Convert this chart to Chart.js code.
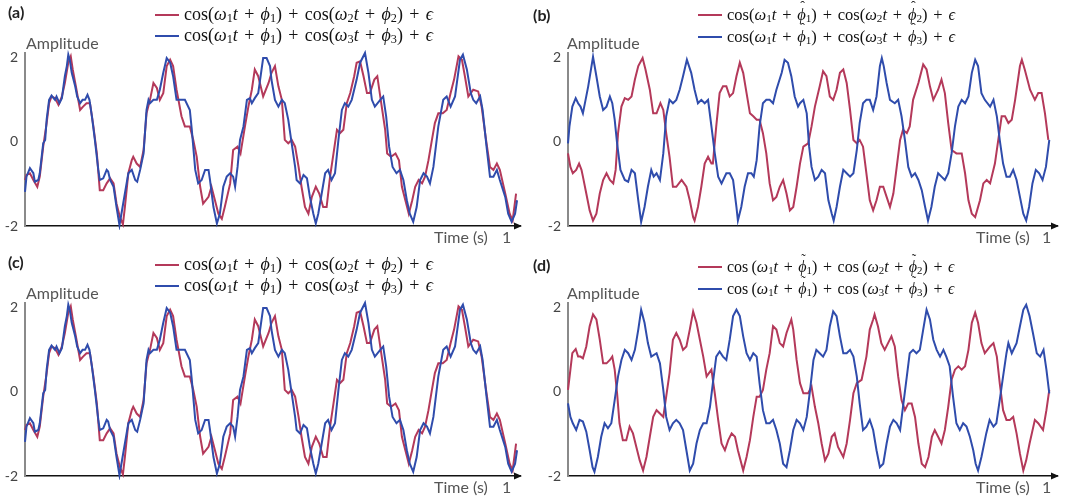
<!DOCTYPE html>
<html>
<head>
<meta charset="utf-8">
<script src="https://cdn.jsdelivr.net/npm/chart.js@4.4.1/dist/chart.umd.min.js"></script>
<style>
body{margin:0;width:1067px;height:497px;overflow:hidden;background:#fff;position:relative;font-family:Lato,"Open Sans",sans-serif}
canvas{position:absolute}
.tag{position:absolute;font-weight:bold;font-size:16px;color:#222}
.lbl{position:absolute;font-size:16px;color:#555;white-space:nowrap}
.leg{position:absolute;font-family:"Liberation Serif",serif;color:#111;white-space:nowrap;line-height:20px}
.leg .sw{display:inline-block;width:24px;height:2px;vertical-align:middle;margin-right:5px;position:relative;top:-1px}
.leg sub{font-size:0.68em;vertical-align:-0.2em;line-height:0}
.leg .op{margin:0 0.35em}
.acc{position:relative;display:inline-block}
.acc b{position:absolute;left:0.22em;top:-0.55em;font-weight:normal;font-style:normal;font-size:0.85em}
</style>
</head>
<body>
<canvas id="pa"></canvas>
<canvas id="pb"></canvas>
<canvas id="pc"></canvas>
<canvas id="pd"></canvas>
<script>
// time (0..1) / amplitude pairs
const yTicks = [-2, 0, 2];

const sigA_red = [[0,-.91],[.003,-.79],[.010,-.75],[.017,-.91],[.025,-1.07],[.030,-.83],[.037,-.12],[.044,.44],[.049,.91],[.054,1.07],[.061,1.03],[.068,.87],[.075,1.07],[.081,1.39],[.088,1.87],[.093,2.02],[.097,1.71],[.104,1.27],[.112,.75],[.118,.83],[.125,.91],[.132,.91],[.139,.36],[.146,-.28],[.152,-1.15],[.159,-1.15],[.166,-.99],[.173,-.87],[.180,-.99],[.186,-1.47],[.193,-1.79],[.199,-1.96],[.203,-1.55],[.210,-.75],[.217,-.44],[.220,-.36],[.227,-.52],[.234,-.60],[.241,-.20],[.247,.67],[.254,.99],[.261,1.39],[.268,1.27],[.274,.99],[.281,1.15],[.288,1.79],[.295,1.94],[.301,1.79],[.308,1.23],[.318,.60],[.325,.36],[.335,.36],[.342,.04],[.349,-.36],[.356,-1.07],[.362,-1.47],[.373,-1.31],[.379,-1.07],[.386,-1.39],[.393,-1.71],[.400,-1.83],[.406,-1.55],[.417,-.99],[.423,-.20],[.432,-.12],[.438,-.28],[.447,.36],[.454,.83],[.461,1.23],[.467,1.71],[.474,1.55],[.484,1.07],[.495,1.39],[.501,1.63],[.508,1.79],[.515,1.31],[.522,.99],[.528,.04],[.535,-.04],[.542,.04],[.549,-.12],[.556,-.60],[.562,-1.07],[.569,-1.55],[.576,-1.71],[.583,-1.31],[.591,-1.07],[.598,-1.23],[.606,-1.55],[.613,-1.55],[.620,-.83],[.627,-.28],[.634,.28],[.640,.20],[.647,.28],[.654,.91],[.661,1.15],[.669,1.55],[.674,1.87],[.681,1.90],[.688,1.55],[.695,1.15],[.701,1.15],[.710,1.47],[.716,1.55],[.723,.99],[.732,.28],[.736,-.28],[.744,-.36],[.753,-.28],[.760,-.44],[.766,-1.07],[.773,-1.39],[.780,-1.71],[.787,-1.39],[.793,-1.07],[.800,-.91],[.807,-.99],[.813,-.83],[.820,-.44],[.827,.04],[.833,.44],[.840,.67],[.849,.67],[.857,.75],[.865,1.15],[.872,1.47],[.881,2.02],[.888,1.94],[.894,1.55],[.901,1.07],[.911,1.23],[.921,1.19],[.928,.83],[.937,.04],[.945,-.60],[.952,-.67],[.959,-.52],[.965,-.67],[.976,-1.23],[.985,-1.71],[.991,-1.87],[.998,-1.23]];

const sigA_blue = [[0,-1.19],[.003,-.83],[.010,-.63],[.017,-.75],[.020,-.95],[.027,-.91],[.030,-.75],[.037,-.04],[.041,.04],[.044,.52],[.049,.99],[.054,1.09],[.058,1.03],[.061,.99],[.064,1.07],[.070,.91],[.075,1.03],[.081,1.55],[.085,1.79],[.088,2.06],[.091,1.94],[.095,1.63],[.102,1.31],[.106,1.07],[.112,.91],[.117,.99],[.122,.99],[.127,1.11],[.131,.99],[.136,.60],[.142,.04],[.149,-.67],[.152,-.91],[.159,-.87],[.166,-.67],[.169,-.71],[.173,-.91],[.180,-1.07],[.186,-1.55],[.192,-1.98],[.196,-1.71],[.203,-1.23],[.210,-.75],[.217,-.67],[.224,-.91],[.228,-.95],[.234,-.67],[.241,-.28],[.247,.75],[.251,.99],[.254,.91],[.261,.99],[.268,.99],[.274,1.23],[.281,1.63],[.288,1.98],[.295,1.87],[.301,1.55],[.308,.99],[.315,.99],[.325,.99],[.335,.75],[.339,.28],[.346,-.67],[.352,-.99],[.359,-.91],[.366,-.67],[.373,-.67],[.376,-.91],[.383,-1.55],[.390,-1.94],[.396,-1.71],[.403,-1.07],[.410,-.83],[.417,-.75],[.423,-.83],[.427,-1.07],[.432,-.60],[.437,.04],[.444,.36],[.451,.99],[.457,1.03],[.461,.91],[.467,1.03],[.474,1.15],[.484,1.98],[.491,1.98],[.498,1.79],[.501,1.46],[.508,.99],[.515,.83],[.522,.99],[.528,.91],[.535,.52],[.542,-.04],[.549,-.60],[.552,-.91],[.559,-.99],[.566,-.79],[.573,-.87],[.579,-1.31],[.586,-1.71],[.591,-1.94],[.596,-1.71],[.603,-1.23],[.610,-.75],[.616,-.67],[.623,-.91],[.630,-.75],[.637,.04],[.644,.75],[.650,.91],[.657,.83],[.664,.99],[.674,1.47],[.681,1.87],[.691,2.10],[.698,1.63],[.705,.99],[.711,.83],[.722,.99],[.728,1.07],[.734,.60],[.740,-.12],[.747,-.60],[.755,-.75],[.762,-.67],[.769,-.91],[.776,-1.39],[.782,-1.71],[.789,-1.90],[.796,-1.55],[.803,-.91],[.810,-.75],[.817,-.83],[.823,-.99],[.830,-.60],[.840,.36],[.850,.99],[.857,1.07],[.865,.83],[.874,1.07],[.884,1.94],[.890,2.06],[.898,1.71],[.906,1.15],[.911,.99],[.917,.91],[.925,1.07],[.930,.75],[.938,-.12],[.945,-.83],[.952,-.83],[.959,-.67],[.965,-.91],[.976,-1.31],[.982,-1.71],[.989,-1.90],[.996,-1.71],[1.0,-1.39]];

const sigB_red = [[0,-.28],[.005,-.60],[.010,-.75],[.017,-.67],[.023,-.52],[.028,-.67],[.031,-.83],[.038,-1.23],[.045,-1.63],[.052,-1.87],[.059,-1.71],[.066,-1.23],[.073,-.91],[.080,-.75],[.087,-.91],[.094,-.99],[.099,-.67],[.104,.20],[.111,.83],[.118,1.03],[.125,.99],[.132,1.07],[.139,1.47],[.146,1.79],[.155,1.98],[.161,1.71],[.170,1.23],[.177,.67],[.184,.67],[.192,.91],[.198,.75],[.204,.20],[.211,-.36],[.218,-1.07],[.225,-1.07],[.236,-.91],[.246,-1.07],[.253,-1.39],[.260,-1.79],[.263,-1.87],[.270,-1.55],[.277,-1.07],[.284,-.52],[.291,-.36],[.298,-.52],[.301,-.52],[.308,.36],[.315,1.15],[.322,1.31],[.329,1.31],[.336,1.07],[.343,1.15],[.350,1.55],[.357,1.87],[.364,1.63],[.371,1.15],[.378,.67],[.385,.60],[.392,.52],[.398,.52],[.405,.20],[.412,-.28],[.419,-.99],[.426,-1.39],[.433,-1.31],[.440,-1.07],[.447,-.91],[.454,-1.23],[.461,-1.63],[.468,-1.55],[.475,-1.07],[.482,-.52],[.489,-.12],[.499,-.04],[.506,.36],[.513,.83],[.523,1.31],[.530,1.67],[.537,1.55],[.544,1.07],[.551,.99],[.558,1.23],[.565,1.63],[.572,1.71],[.579,1.39],[.586,.75],[.593,.04],[.600,-.04],[.606,.04],[.613,-.12],[.620,-.75],[.627,-1.39],[.634,-1.63],[.641,-1.39],[.648,-1.07],[.655,-1.07],[.662,-1.31],[.669,-1.55],[.676,-1.23],[.683,-.60],[.690,.04],[.696,.28],[.704,.20],[.710,.36],[.717,.99],[.728,1.39],[.738,1.83],[.745,1.71],[.752,1.31],[.759,.99],[.769,1.23],[.776,1.47],[.783,1.15],[.790,.44],[.797,-.20],[.807,-.28],[.818,-.28],[.825,-.75],[.832,-1.39],[.839,-1.71],[.846,-1.79],[.856,-1.39],[.863,-.99],[.870,-.91],[.877,-.99],[.887,-.52],[.894,.04],[.901,.60],[.908,.60],[.915,.44],[.922,.52],[.929,.99],[.939,1.79],[.943,1.94],[.949,1.71],[.960,1.23],[.970,.99],[.977,1.15],[.984,1.15],[.991,.67],[.998,.04]];

const sigB_blue = [[0,-.04],[.003,.36],[.009,.83],[.016,1.03],[.021,.91],[.026,.83],[.031,.67],[.042,1.31],[.052,2.01],[.059,1.55],[.066,1.07],[.073,.75],[.080,.83],[.087,1.07],[.092,.91],[.097,.52],[.102,-.04],[.109,-.67],[.118,-.91],[.125,-.95],[.132,-.67],[.139,-.75],[.146,-1.39],[.152,-1.90],[.159,-1.55],[.166,-1.07],[.173,-.67],[.178,-.83],[.184,-.75],[.191,-.91],[.198,-.28],[.204,.60],[.211,.99],[.218,.91],[.225,.99],[.232,1.23],[.239,1.55],[.247,1.94],[.256,1.63],[.263,1.23],[.270,.91],[.277,.99],[.284,.91],[.291,.99],[.298,.36],[.305,-.28],[.312,-.83],[.319,-.99],[.329,-.75],[.336,-.75],[.343,-.91],[.350,-1.55],[.353,-1.87],[.360,-1.55],[.367,-1.07],[.374,-.75],[.381,-.75],[.386,-.83],[.392,-.44],[.398,.36],[.405,.91],[.412,.99],[.419,.99],[.426,.91],[.433,1.23],[.444,1.63],[.450,1.94],[.457,1.87],[.464,1.55],[.471,1.07],[.478,.83],[.482,.91],[.489,.99],[.496,.67],[.501,-.12],[.506,-.60],[.513,-.91],[.520,-.83],[.527,-.67],[.534,-.75],[.541,-1.39],[.548,-1.71],[.552,-1.87],[.558,-1.55],[.565,-1.07],[.572,-.67],[.579,-.75],[.586,-.83],[.593,-.75],[.600,-.20],[.606,.44],[.613,.91],[.620,.99],[.627,.99],[.634,.75],[.641,1.07],[.648,1.79],[.652,1.98],[.656,1.79],[.662,1.39],[.669,.99],[.679,.91],[.686,.99],[.693,.60],[.700,.04],[.707,-.60],[.714,-.83],[.721,-.75],[.728,-.91],[.735,-1.15],[.742,-1.55],[.748,-1.87],[.755,-1.55],[.762,-1.07],[.769,-.75],[.776,-.83],[.783,-.91],[.790,-.75],[.797,-.28],[.804,.36],[.811,.83],[.818,.99],[.825,.91],[.832,1.07],[.839,1.63],[.846,1.94],[.852,1.79],[.859,1.15],[.866,.99],[.877,.83],[.884,.99],[.891,.60],[.897,.04],[.904,-.52],[.911,-.83],[.918,-.83],[.925,-.67],[.932,-.91],[.939,-1.31],[.946,-1.71],[.952,-1.87],[.958,-1.55],[.965,-.99],[.972,-.67],[.979,-.75],[.986,-.91],[.993,-.60],[1.0,.04]];

const sigD_red = [[0,.04],[.005,.52],[.009,.91],[.016,1.01],[.021,.83],[.026,.83],[.031,.79],[.038,1.07],[.045,1.55],[.052,1.83],[.059,1.71],[.066,1.23],[.073,.67],[.080,.67],[.087,.75],[.092,.83],[.097,.52],[.102,-.04],[.107,-.75],[.114,-1.15],[.121,-1.15],[.128,-.83],[.135,-.99],[.142,-1.31],[.149,-1.63],[.156,-1.87],[.163,-1.55],[.170,-1.07],[.177,-.60],[.184,-.44],[.191,-.52],[.198,-.60],[.204,-.12],[.211,.44],[.218,1.23],[.225,1.39],[.232,1.23],[.239,.99],[.246,1.07],[.253,1.47],[.260,1.90],[.267,1.63],[.274,1.23],[.281,.83],[.288,.36],[.298,.52],[.305,-.04],[.312,-.67],[.319,-1.23],[.326,-1.39],[.333,-1.15],[.340,-.99],[.347,-1.07],[.353,-1.39],[.364,-1.87],[.371,-1.55],[.378,-1.15],[.385,-.60],[.392,-.12],[.398,-.12],[.405,.04],[.412,.52],[.419,.91],[.426,1.55],[.433,1.47],[.440,1.15],[.447,1.07],[.454,1.39],[.464,1.71],[.468,1.47],[.475,.75],[.482,.20],[.489,-.04],[.499,-.04],[.506,.12],[.513,-.36],[.520,-.75],[.527,-1.23],[.534,-1.63],[.541,-1.47],[.548,-1.07],[.554,-.99],[.561,-1.31],[.572,-1.55],[.579,-1.23],[.586,-.67],[.593,-.04],[.600,.20],[.610,.28],[.620,.83],[.627,1.47],[.634,1.71],[.637,1.83],[.644,1.55],[.651,1.15],[.658,.99],[.665,1.15],[.672,1.31],[.679,1.07],[.686,.36],[.693,-.20],[.700,-.44],[.707,-.28],[.714,-.28],[.721,-.60],[.728,-1.23],[.735,-1.71],[.742,-1.79],[.749,-1.55],[.756,-1.07],[.762,-.91],[.769,-1.07],[.776,-1.23],[.783,-.91],[.790,-.36],[.797,.28],[.804,.52],[.811,.60],[.818,.52],[.825,.60],[.832,.99],[.839,1.63],[.846,1.87],[.852,1.63],[.859,1.15],[.866,.91],[.877,1.07],[.884,1.15],[.891,.83],[.897,.20],[.904,-.44],[.911,-.67],[.918,-.67],[.925,-.60],[.932,-.99],[.939,-1.47],[.946,-1.87],[.952,-1.63],[.959,-1.23],[.970,-.67],[.977,-.75],[.987,-.91],[.994,-.44],[1.0,.04]];

const sigD_blue = [[0,-.28],[.005,-.60],[.010,-.75],[.017,-.91],[.024,-.67],[.031,-.71],[.038,-.95],[.045,-1.39],[.051,-1.79],[.055,-1.90],[.062,-1.55],[.069,-1.07],[.076,-.75],[.083,-.87],[.090,-.75],[.097,-.20],[.104,.36],[.111,.75],[.118,.99],[.125,.91],[.132,.75],[.139,.99],[.146,1.47],[.152,1.94],[.159,1.63],[.166,1.15],[.173,.83],[.184,.91],[.191,.67],[.198,.04],[.204,-.60],[.211,-.91],[.218,-.75],[.225,-.67],[.232,-.75],[.239,-.91],[.246,-1.39],[.253,-1.87],[.260,-1.71],[.267,-1.23],[.274,-.91],[.281,-.75],[.288,-.75],[.295,-.36],[.301,.20],[.308,.83],[.315,.95],[.322,.83],[.329,.75],[.336,1.23],[.343,1.79],[.350,1.94],[.357,1.79],[.364,1.31],[.371,.91],[.378,.75],[.385,.91],[.392,.83],[.398,.20],[.405,-.44],[.412,-.75],[.419,-.75],[.426,-.67],[.433,-.91],[.440,-1.23],[.447,-1.71],[.454,-1.79],[.461,-1.39],[.468,-.91],[.475,-.67],[.482,-.75],[.489,-.91],[.496,-.60],[.503,.04],[.510,.75],[.516,.99],[.523,.91],[.530,.83],[.537,.99],[.544,1.55],[.551,1.90],[.558,1.79],[.565,1.31],[.572,.91],[.579,.91],[.586,.99],[.593,.83],[.600,.36],[.606,-.28],[.613,-.91],[.620,-.83],[.627,-.67],[.634,-.91],[.641,-1.39],[.648,-1.79],[.655,-1.71],[.662,-1.23],[.669,-.83],[.676,-.67],[.683,-.75],[.690,-.91],[.696,-.36],[.704,.36],[.710,.91],[.717,.99],[.724,.91],[.731,.99],[.738,1.47],[.745,1.94],[.752,1.71],[.759,1.23],[.766,.99],[.773,.83],[.780,.99],[.786,.83],[.793,.60],[.800,-.12],[.807,-.75],[.814,-.91],[.821,-.75],[.828,-.83],[.835,-1.07],[.842,-1.39],[.847,-1.71],[.852,-1.87],[.859,-1.55],[.869,-.99],[.876,-.67],[.884,-.83],[.890,-.75],[.897,-.20],[.904,.36],[.911,.91],[.915,1.15],[.922,.91],[.932,1.15],[.939,1.55],[.946,1.94],[.952,2.06],[.959,1.79],[.966,1.39],[.974,.91],[.981,.83],[.988,.99],[.994,.52],[1.0,-.04]];

const RED = '#b4395a';
const BLUE = '#2f4cac';

const arrowPlugin = {
    id: 'axisArrow',
    afterDraw(chart) {
        const a = chart.chartArea;
        const ctx = chart.ctx;
        ctx.save();
        ctx.fillStyle = '#111';
        ctx.beginPath();
        ctx.moveTo(a.right + 2, a.bottom);
        ctx.lineTo(a.right - 6, a.bottom - 3.5);
        ctx.lineTo(a.right - 6, a.bottom + 3.5);
        ctx.closePath();
        ctx.fill();
        ctx.restore();
    }
};

function toXY(arr) {
    return arr.map(p => ({x: p[0], y: p[1]}));
}

function makePanel(id, left, top, width, axisW, padRight, xMax, red, blue) {
    const cv = document.getElementById(id);
    cv.width = width;
    cv.height = 248;
    cv.style.left = left + 'px';
    cv.style.top = top + 'px';
    new Chart(cv.getContext('2d'), {
        type: 'line',
        data: {
            datasets: [
                {data: toXY(red), borderColor: RED, borderWidth: 2, pointRadius: 0, order: 1, clip: 4},
                {data: toXY(blue), borderColor: BLUE, borderWidth: 2, pointRadius: 0, order: 0, clip: 4}
            ]
        },
        options: {
            responsive: false,
            animation: false,
            devicePixelRatio: 1,
            layout: {padding: {top: 53, right: padRight, left: 0, bottom: 0}},
            plugins: {legend: {display: false}, tooltip: {enabled: false}},
            scales: {
                x: {
                    type: 'linear', min: 0, max: xMax,
                    grid: {display: false, drawTicks: false},
                    ticks: {display: false},
                    border: {display: true, color: '#111', width: 1.5},
                    afterFit(s) { s.height = 22; }
                },
                y: {
                    min: -2, max: 2.1,
                    grid: {display: false, drawTicks: false},
                    border: {display: true, color: '#8a8a8a', width: 2},
                    ticks: {color: '#444', padding: 7, font: {family: 'Lato', size: 14}},
                    afterBuildTicks(s) { s.ticks = yTicks.map(v => ({value: v})); },
                    afterFit(s) { s.width = axisW; }
                }
            }
        },
        plugins: [arrowPlugin]
    });
}

makePanel('pa', 0, 0, 533, 25, 13, 1.006, sigA_red, sigA_blue);
makePanel('pb', 533, 0, 534, 35, 10, 1.016, sigB_red, sigB_blue);
makePanel('pc', 0, 250, 533, 25, 13, 1.006, sigA_red, sigA_blue);
makePanel('pd', 533, 250, 534, 35, 10, 1.016, sigD_red, sigD_blue);

// legends and labels
const PLUS = '<span class="op">+</span>';
function phi(k, acc) {
    let sym = '<i>ϕ</i>';
    if (acc === 'hat') sym = '<span class="acc"><i>ϕ</i><b>ˆ</b></span>';
    if (acc === 'tilde') sym = '<span class="acc"><i>ϕ</i><b>˜</b></span>';
    return sym + '<sub>' + k + '</sub>';
}
function formula(k, acc, sp) {
    const c = sp ? 'cos&thinsp;(' : 'cos(';
    return c + '<i>ω</i><sub>1</sub><i>t</i>' + PLUS + phi(1, acc) + ')' + PLUS +
        c + '<i>ω</i><sub>' + k + '</sub><i>t</i>' + PLUS + phi(k, acc) + ')' + PLUS + '<i>ϵ</i>';
}
function addDiv(cls, x, y, html, size) {
    const d = document.createElement('div');
    d.className = cls;
    d.style.left = x + 'px';
    d.style.top = y + 'px';
    if (size) d.style.fontSize = size + 'px';
    d.innerHTML = html;
    document.body.appendChild(d);
}
function legend(x, y1, y2, acc, sp, size) {
    addDiv('leg', x, y1 - 10, '<span class="sw" style="background:' + RED + '"></span>' + formula(2, acc, sp), size);
    addDiv('leg', x, y2 - 10, '<span class="sw" style="background:' + BLUE + '"></span>' + formula(3, acc, sp), size);
}

const panels = [
    {tag: '(a)', tx: 8, ty: 2, lx: 155, ly1: 14, ly2: 35, acc: '', sp: false, fs: 18, ax: 26, tl: 434, one: 502, top: 0},
    {tag: '(b)', tx: 533, ty: 5, lx: 698, ly1: 15, ly2: 37, acc: 'hat', sp: false, fs: 16.5, ax: 567, tl: 976, one: 1042, top: 0},
    {tag: '(c)', tx: 8, ty: 252, lx: 155, ly1: 264, ly2: 285, acc: '', sp: false, fs: 18, ax: 26, tl: 434, one: 502, top: 250},
    {tag: '(d)', tx: 533, ty: 255, lx: 698, ly1: 267, ly2: 289, acc: 'tilde', sp: true, fs: 16, ax: 567, tl: 976, one: 1042, top: 250}
];
panels.forEach(p => {
    addDiv('tag', p.tx, p.ty, p.tag);
    legend(p.lx, p.ly1, p.ly2, p.acc, p.sp, p.fs);
    addDiv('lbl', p.ax, p.top + 33, 'Amplitude');
    addDiv('lbl', p.tl, p.top + 227, 'Time (s)');
    addDiv('lbl', p.one, p.top + 227, '1');
});
</script>
</body>
</html>
